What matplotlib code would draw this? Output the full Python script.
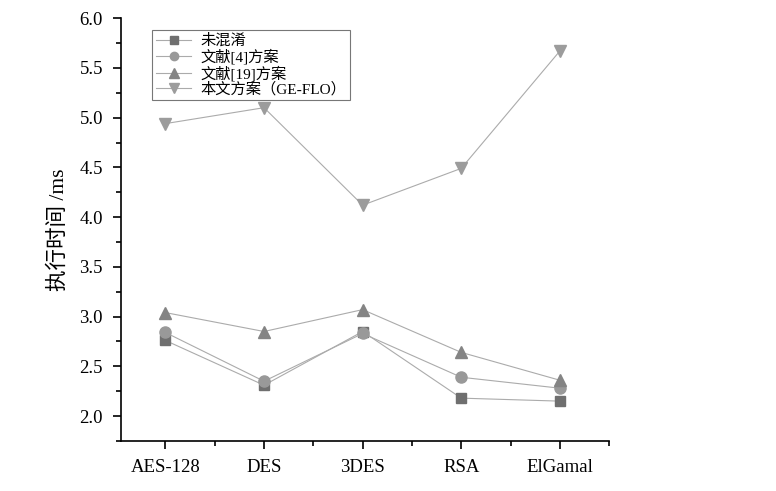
import numpy as np
import matplotlib
matplotlib.use("Agg")
import matplotlib.pyplot as plt
from matplotlib.ticker import MultipleLocator, FixedLocator

plt.rcParams['font.family'] = ['Liberation Serif', 'Noto Sans CJK SC']

# data
categories = ['AES-128', 'DES', '3DES', 'RSA', 'ElGamal']
unobf = [2.76, 2.31, 2.85, 2.18, 2.15]
ref4 = [2.84, 2.35, 2.83, 2.39, 2.28]
ref19 = [3.04, 2.85, 3.07, 2.64, 2.36]
ours = [4.94, 5.10, 4.12, 4.49, 5.67]
labels = ['未混淆', '文献[4]方案', '文献[19]方案', '本文方案（GE-FLO）']

fig = plt.figure(figsize=(7.76, 4.91), dpi=100)
ax = fig.add_axes([0.156, 0.102, 0.629, 0.861])

x = np.arange(len(categories))
series = [
    (unobf, 's', '#6f6f6f', 7),
    (ref4, 'o', '#999999', 8),
    (ref19, '^', '#848484', 9),
    (ours, 'v', '#9c9c9c', 9),
]
for (vals, mk, col, ms), lab in zip(series, labels):
    ax.plot(x, vals, color='#ababab', lw=0.8, marker=mk, ms=ms,
            mfc=col, mec=col, label=lab)

ax.set_xlim(-0.45, 4.5)
ax.set_ylim(1.75, 6.0)
ax.set_xticks(x)
ax.set_xticklabels(categories, fontsize=13.5)
ax.xaxis.set_minor_locator(FixedLocator([0.5, 1.5, 2.5, 3.5, 4.5]))
ax.yaxis.set_minor_locator(MultipleLocator(0.25))
ax.set_yticks(np.arange(2.0, 6.01, 0.5))
ax.set_yticklabels(['%.1f' % v for v in np.arange(2.0, 6.01, 0.5)], fontsize=13.5)
ax.tick_params(which='major', direction='out', length=6, width=1.2, pad=7)
ax.tick_params(which='minor', direction='out', length=3.5, width=1.2)
ax.spines['top'].set_visible(False)
ax.spines['right'].set_visible(False)
ax.spines['left'].set_linewidth(1.2)
ax.spines['bottom'].set_linewidth(1.2)

ax.set_ylabel('执行时间 /ms', fontsize=15.5, labelpad=8)

leg = ax.legend(loc='upper left', bbox_to_anchor=(0.048, 0.99), fontsize=11,
                frameon=True, fancybox=False, edgecolor='#555555',
                handlelength=2.3, labelspacing=0.05, borderpad=0.25,
                handletextpad=0.6, markerscale=0.75)
leg.get_frame().set_linewidth(0.8)

fig.savefig('out.png', dpi=100)
